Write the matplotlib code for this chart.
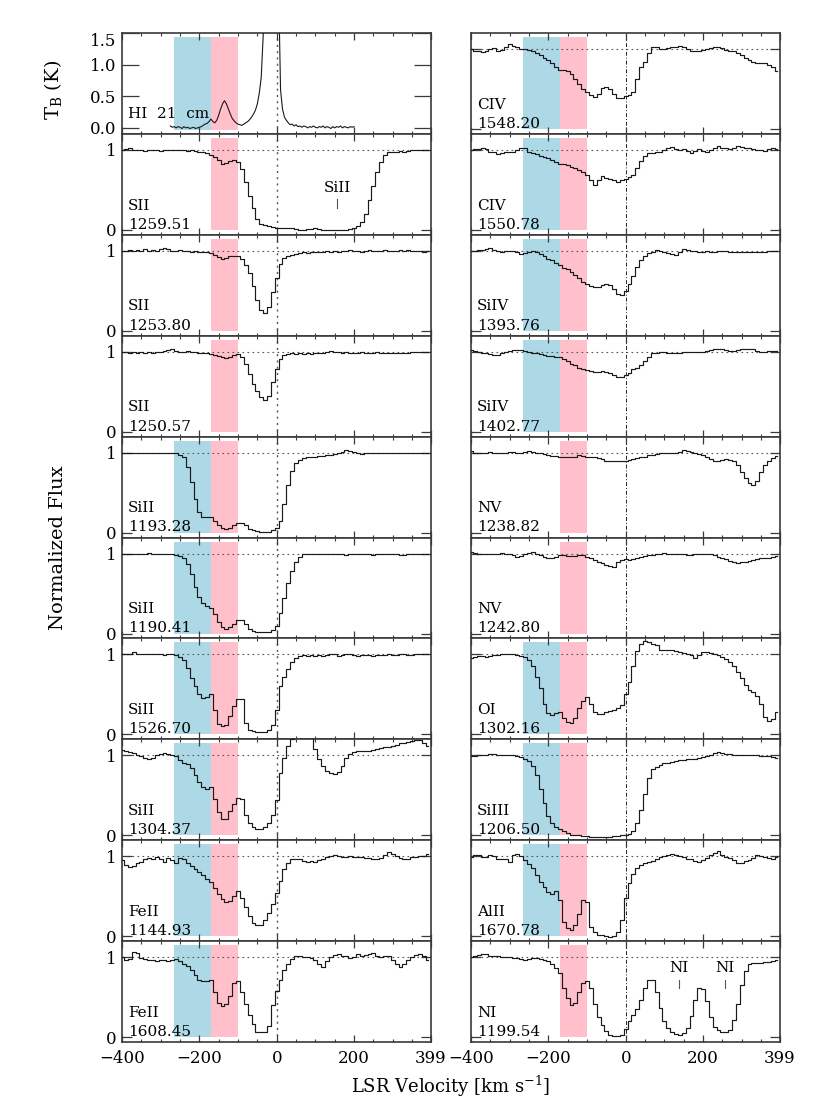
import numpy as np
import matplotlib
matplotlib.use("Agg")
import matplotlib.pyplot as plt
from matplotlib.ticker import FixedLocator, MultipleLocator

plt.rcParams['font.family'] = ['DejaVu Serif']
plt.rcParams['mathtext.fontset'] = 'dejavuserif'

# ---------------- data ----------------
V_START = -400      # first bin centre of every absorption profile (km/s)
V_STEP = 10         # bin width (km/s)
HI_START = -275
HI_STEP = 5

BLUE_RANGE = (-265, -170)
PINK_RANGE = (-170, -100)

hi_tb = [0.03, 0.01, 0.02, 0.0, 0.02, 0.01, -0.01, 0.02, 0.0, 0.01, -0.01, 0.0, 0.01, -0.01, 0.0, 0.01,
         0.02, 0.04, 0.06, 0.07, 0.1, 0.14, 0.1, 0.08, 0.12, 0.2, 0.3, 0.38, 0.43, 0.38, 0.3, 0.22,
         0.15, 0.11, 0.08, 0.06, 0.05, 0.04, 0.06, 0.08, 0.1, 0.13, 0.17, 0.22, 0.28, 0.38, 0.55, 0.8,
         1.45, 2.6, 4.2, 6.0, 7.5, 8.2, 8.0, 6.5, 2.2, 0.6, 0.3, 0.17, 0.12, 0.08, 0.05, 0.06,
         0.03, 0.05, 0.02, 0.03, 0.01, 0.03, 0.02, 0.0, 0.02, 0.01, 0.03, 0.01, 0.0, 0.02, 0.01, 0.03,
         0.0, 0.02, 0.01, -0.01, 0.02, 0.0, 0.02, 0.01, 0.03, 0.0, 0.02, 0.01, 0.0, 0.02, 0.01, 0.02]

sii_1259 = [1.0, 1.01, 1.02, 1.0, 1.0, 1.0, 0.99, 1.0, 1.0, 1.0, 0.99, 1.0, 1.0, 1.0, 1.0, 1.0,
            1.0, 0.99, 1.0, 0.99, 0.98, 0.97, 0.96, 0.94, 0.91, 0.87, 0.83, 0.84, 0.86, 0.87, 0.85, 0.76,
            0.6, 0.43, 0.27, 0.14, 0.08, 0.06, 0.05, 0.04, 0.03, 0.03, 0.02, 0.02, 0.02, 0.01, 0.0, 0.0,
            0.01, 0.01, 0.02, 0.01, 0.0, 0.0, 0.0, 0.0, 0.0, 0.0, 0.0, 0.01, 0.02, 0.05, 0.1, 0.2,
            0.38, 0.55, 0.72, 0.85, 0.94, 0.97, 0.98, 0.98, 0.99, 0.98, 0.99, 1.0, 1.0, 1.0, 1.0, 1.0]

sii_1253 = [1.0, 1.0, 1.01, 1.0, 1.01, 1.0, 1.02, 1.0, 1.01, 1.0, 1.02, 1.03, 1.02, 1.0, 1.0, 1.01,
            1.0, 1.0, 0.99, 1.0, 0.99, 0.99, 0.98, 0.97, 0.95, 0.92, 0.9, 0.91, 0.93, 0.94, 0.94, 0.9,
            0.82, 0.72, 0.56, 0.38, 0.26, 0.22, 0.3, 0.48, 0.66, 0.84, 0.91, 0.93, 0.95, 0.96, 0.97, 0.98,
            0.97, 0.99, 0.98, 0.99, 0.98, 1.0, 0.99, 1.0, 0.99, 1.0, 1.0, 1.01, 1.0, 1.0, 0.99, 1.0,
            1.01, 1.0, 1.0, 1.0, 1.01, 1.0, 1.0, 1.0, 1.01, 1.0, 1.01, 1.0, 1.0, 1.0, 0.99, 1.0]

sii_1250 = [1.0, 1.0, 0.99, 1.0, 0.99, 1.0, 0.99, 1.0, 0.99, 1.0, 1.0, 1.01, 1.02, 1.03, 1.01, 1.0,
            1.0, 1.01, 1.0, 1.0, 0.99, 0.99, 0.98, 0.97, 0.96, 0.95, 0.93, 0.92, 0.94, 0.96, 0.97, 0.93,
            0.85, 0.72, 0.6, 0.51, 0.44, 0.4, 0.45, 0.62, 0.78, 0.91, 0.96, 0.97, 0.98, 0.97, 0.98, 0.97,
            0.98, 0.97, 0.99, 0.98, 0.99, 1.0, 1.01, 1.0, 1.0, 0.99, 1.0, 0.99, 0.98, 0.99, 1.0, 0.99,
            0.99, 0.99, 1.0, 0.99, 0.99, 0.98, 0.98, 0.99, 0.98, 0.98, 0.99, 1.0, 1.0, 1.0, 1.0, 1.0]

siii_1193 = [1.0, 1.0, 0.99, 1.0, 0.99, 1.0, 1.0, 0.99, 1.0, 1.0, 1.0, 0.99, 1.0, 1.0, 0.99, 0.97,
             0.94, 0.82, 0.63, 0.42, 0.26, 0.19, 0.19, 0.2, 0.14, 0.09, 0.06, 0.05, 0.06, 0.09, 0.12, 0.12,
             0.09, 0.05, 0.03, 0.02, 0.01, 0.01, 0.01, 0.03, 0.06, 0.14, 0.36, 0.6, 0.77, 0.87, 0.91, 0.93,
             0.94, 0.94, 0.95, 0.96, 0.96, 0.97, 0.97, 0.98, 1.0, 1.01, 1.03, 1.02, 1.01, 1.0, 0.98, 0.99,
             0.99, 1.0, 1.0, 0.99, 1.0, 1.0, 0.99, 1.0, 1.0, 0.99, 1.0, 1.0, 1.0, 0.99, 1.0, 1.0]

siii_1190 = [0.99, 1.0, 1.0, 1.0, 0.99, 1.0, 1.0, 1.01, 1.0, 1.0, 0.99, 0.99, 1.0, 0.99, 0.98, 0.97,
             0.94, 0.87, 0.74, 0.58, 0.46, 0.38, 0.34, 0.32, 0.24, 0.14, 0.08, 0.06, 0.08, 0.12, 0.17, 0.17,
             0.12, 0.06, 0.03, 0.02, 0.02, 0.02, 0.02, 0.04, 0.1, 0.26, 0.44, 0.63, 0.78, 0.9, 0.96, 0.99,
             1.0, 1.0, 1.0, 0.99, 1.0, 1.0, 0.99, 1.0, 0.99, 0.99, 0.98, 0.99, 0.99, 1.0, 1.0, 0.99,
             0.99, 0.98, 0.99, 0.99, 1.0, 0.99, 0.99, 0.99, 0.98, 0.98, 0.99, 0.99, 1.0, 0.99, 0.99, 1.0]

siii_1526 = [1.0, 1.0, 1.01, 1.03, 1.01, 1.0, 1.0, 1.01, 1.0, 1.0, 1.0, 0.99, 1.0, 1.0, 0.99, 0.97,
             0.93, 0.83, 0.7, 0.6, 0.51, 0.46, 0.47, 0.5, 0.3, 0.13, 0.1, 0.12, 0.23, 0.36, 0.44, 0.44,
             0.14, 0.06, 0.04, 0.03, 0.03, 0.03, 0.06, 0.12, 0.3, 0.6, 0.72, 0.82, 0.9, 0.95, 0.98, 0.99,
             0.98, 0.99, 0.98, 0.99, 0.98, 0.99, 1.0, 1.0, 0.98, 0.99, 1.01, 1.0, 0.99, 0.98, 0.99, 0.99,
             0.99, 0.98, 0.99, 0.99, 0.99, 1.0, 0.99, 0.99, 1.0, 1.0, 0.99, 0.99, 1.0, 1.0, 1.01, 1.0]

siii_1304 = [1.07, 1.06, 1.04, 1.03, 1.01, 0.99, 0.97, 0.95, 0.97, 1.0, 1.02, 1.03, 1.02, 1.01, 0.99, 0.94,
             0.91, 0.89, 0.84, 0.76, 0.67, 0.61, 0.58, 0.6, 0.46, 0.29, 0.21, 0.21, 0.3, 0.39, 0.47, 0.45,
             0.26, 0.15, 0.1, 0.08, 0.08, 0.1, 0.15, 0.25, 0.44, 0.78, 0.97, 1.12, 1.2, 1.26, 1.3, 1.32,
             1.3, 1.27, 1.08, 0.95, 0.87, 0.81, 0.78, 0.77, 0.79, 0.87, 0.97, 1.02, 1.04, 1.05, 1.05, 1.06,
             1.06, 1.07, 1.08, 1.09, 1.1, 1.11, 1.12, 1.13, 1.15, 1.16, 1.17, 1.18, 1.19, 1.19, 1.16, 1.12]

feii_1144 = [0.95, 0.89, 0.86, 0.88, 0.91, 0.93, 0.97, 0.98, 0.96, 0.99, 0.97, 0.93, 0.98, 0.95, 0.91, 0.98,
             0.96, 0.92, 0.88, 0.84, 0.8, 0.76, 0.72, 0.68, 0.6, 0.53, 0.47, 0.43, 0.44, 0.5, 0.56, 0.48,
             0.36, 0.25, 0.17, 0.14, 0.14, 0.2, 0.29, 0.4, 0.54, 0.69, 0.84, 0.92, 0.96, 0.97, 0.96, 0.94,
             0.93, 0.94, 0.93, 0.95, 0.97, 0.99, 1.0, 1.01, 1.0, 0.99, 0.99, 1.0, 0.99, 0.99, 0.99, 0.98,
             0.98, 0.97, 0.97, 0.98, 1.02, 1.05, 1.03, 1.0, 0.98, 0.96, 0.97, 0.99, 0.99, 1.0, 1.0, 1.03]

feii_1608 = [1.0, 0.97, 0.98, 1.06, 1.05, 0.99, 0.98, 0.97, 0.96, 0.95, 0.97, 0.96, 0.95, 0.97, 0.98, 0.95,
             0.92, 0.89, 0.84, 0.78, 0.71, 0.7, 0.7, 0.72, 0.56, 0.43, 0.39, 0.41, 0.52, 0.68, 0.7, 0.56,
             0.42, 0.28, 0.16, 0.06, 0.06, 0.07, 0.14, 0.4, 0.58, 0.72, 0.84, 0.92, 0.98, 1.01, 1.02, 1.0,
             1.0, 0.99, 0.96, 0.91, 0.88, 0.95, 1.0, 1.03, 1.04, 1.02, 1.01, 0.99, 1.0, 1.04, 1.02, 1.03,
             1.04, 1.05, 1.02, 1.0, 1.01, 1.01, 0.97, 0.92, 0.88, 0.92, 0.97, 1.0, 1.03, 1.04, 1.01, 0.97]

civ_1548 = [1.0, 0.98, 0.97, 0.96, 0.98, 1.0, 1.01, 0.98, 0.99, 1.02, 1.06, 1.04, 1.02, 1.0, 1.0, 0.99,
            0.97, 0.95, 0.92, 0.89, 0.86, 0.82, 0.77, 0.74, 0.74, 0.73, 0.69, 0.63, 0.56, 0.5, 0.46, 0.43,
            0.4, 0.44, 0.51, 0.53, 0.5, 0.44, 0.39, 0.39, 0.41, 0.43, 0.46, 0.63, 0.77, 0.84, 0.95, 1.03,
            1.02, 1.0, 1.0, 1.01, 1.02, 1.03, 1.04, 1.02, 1.0, 0.97, 0.97, 0.97, 0.99, 1.0, 1.01, 1.02,
            1.03, 1.01, 0.99, 0.98, 0.97, 0.95, 0.92, 0.89, 0.86, 0.84, 0.83, 0.83, 0.83, 0.8, 0.77, 0.73]

civ_1550 = [1.0, 1.01, 1.01, 1.02, 1.01, 0.98, 0.97, 0.95, 0.96, 0.97, 0.98, 0.98, 1.0, 1.02, 1.03, 0.98,
            0.96, 0.95, 0.93, 0.91, 0.9, 0.87, 0.85, 0.83, 0.82, 0.81, 0.79, 0.77, 0.75, 0.72, 0.69, 0.62,
            0.56, 0.63, 0.67, 0.65, 0.64, 0.63, 0.6, 0.62, 0.64, 0.66, 0.69, 0.77, 0.86, 0.93, 0.96, 0.96,
            0.97, 0.98, 1.0, 1.02, 1.04, 1.01, 1.0, 1.01, 0.99, 0.96, 0.99, 1.01, 0.99, 0.98, 1.0, 1.02,
            1.05, 1.03, 1.02, 1.01, 1.02, 1.05, 1.04, 1.03, 1.02, 1.01, 1.0, 1.0, 0.99, 1.01, 1.02, 1.01]

siiv_1393 = [1.0, 1.0, 1.01, 1.01, 1.02, 1.03, 1.01, 1.0, 0.99, 1.0, 1.0, 1.0, 0.98, 0.96, 0.97, 0.99,
             1.0, 0.98, 0.96, 0.93, 0.9, 0.88, 0.85, 0.82, 0.79, 0.77, 0.74, 0.7, 0.66, 0.61, 0.58, 0.56,
             0.55, 0.55, 0.57, 0.59, 0.57, 0.52, 0.46, 0.45, 0.5, 0.58, 0.69, 0.8, 0.88, 0.93, 0.97, 0.99,
             1.01, 1.0, 0.99, 0.97, 0.96, 0.95, 0.99, 1.02, 1.01, 1.0, 1.0, 0.99, 0.99, 1.0, 0.99, 0.99,
             1.0, 1.0, 1.0, 0.99, 0.99, 0.99, 0.98, 0.98, 0.98, 0.99, 0.99, 0.99, 0.99, 1.0, 1.0, 1.0]

siiv_1402 = [1.02, 1.01, 1.0, 0.99, 0.98, 0.97, 0.96, 0.96, 0.98, 1.0, 1.01, 1.02, 1.02, 1.02, 1.01, 1.0,
             0.99, 0.98, 0.97, 0.96, 0.95, 0.95, 0.94, 0.94, 0.91, 0.88, 0.85, 0.83, 0.8, 0.78, 0.77, 0.76,
             0.75, 0.75, 0.76, 0.75, 0.73, 0.71, 0.69, 0.69, 0.71, 0.74, 0.78, 0.8, 0.84, 0.88, 0.94, 0.98,
             0.99, 1.0, 1.0, 0.99, 0.99, 0.99, 0.99, 1.0, 1.0, 1.0, 1.0, 1.0, 1.0, 1.01, 1.02, 1.03,
             1.04, 1.03, 1.02, 1.01, 1.01, 1.02, 1.03, 1.03, 1.04, 1.03, 1.01, 1.0, 1.0, 1.01, 1.01, 1.01]

nv_1238 = [1.02, 1.0, 0.99, 0.99, 1.0, 1.01, 1.0, 0.99, 0.99, 1.0, 1.01, 1.01, 1.0, 1.0, 1.01, 1.02,
           1.01, 1.0, 0.99, 0.98, 0.97, 0.96, 0.96, 0.95, 0.95, 0.94, 0.94, 0.95, 0.97, 0.96, 0.95, 0.95,
           0.94, 0.93, 0.92, 0.9, 0.9, 0.9, 0.9, 0.9, 0.9, 0.91, 0.92, 0.93, 0.94, 0.95, 0.97, 0.97,
           0.98, 0.99, 0.99, 0.99, 0.99, 1.0, 1.01, 1.03, 1.02, 1.01, 1.0, 0.98, 0.97, 0.95, 0.92, 0.9,
           0.9, 0.91, 0.92, 0.91, 0.9, 0.84, 0.76, 0.68, 0.62, 0.6, 0.65, 0.76, 0.85, 0.9, 0.93, 0.96]

nv_1242 = [1.02, 1.01, 1.0, 1.0, 0.99, 0.99, 0.99, 1.0, 1.01, 1.0, 0.99, 0.98, 0.96, 0.97, 0.99, 1.01,
           1.02, 1.0, 0.98, 0.96, 0.95, 0.94, 0.96, 0.98, 0.98, 0.97, 0.97, 0.97, 0.98, 0.98, 0.96, 0.94,
           0.92, 0.9, 0.88, 0.86, 0.84, 0.83, 0.89, 0.92, 0.93, 0.92, 0.93, 0.94, 0.96, 0.97, 0.98, 0.98,
           0.99, 1.0, 1.01, 1.0, 1.0, 0.99, 0.99, 0.99, 0.98, 0.98, 0.99, 0.99, 1.0, 0.99, 0.99, 0.98,
           0.96, 0.95, 0.93, 0.91, 0.89, 0.88, 0.89, 0.9, 0.91, 0.92, 0.93, 0.94, 0.95, 0.95, 0.96, 0.97]

oi_1302 = [0.96, 0.97, 0.98, 0.98, 0.97, 0.98, 0.99, 0.99, 1.0, 1.01, 1.01, 1.0, 0.99, 0.98, 0.97, 0.93,
           0.86, 0.72, 0.58, 0.38, 0.27, 0.24, 0.27, 0.28, 0.2, 0.16, 0.14, 0.2, 0.33, 0.42, 0.47, 0.38,
           0.28, 0.25, 0.26, 0.28, 0.29, 0.31, 0.33, 0.37, 0.5, 0.66, 0.86, 1.04, 1.13, 1.17, 1.15, 1.13,
           1.12, 1.06, 1.05, 1.05, 1.05, 1.04, 1.03, 1.02, 1.0, 0.99, 0.96, 0.99, 1.03, 1.03, 1.02, 1.0,
           0.99, 0.97, 0.94, 0.91, 0.86, 0.78, 0.7, 0.62, 0.56, 0.53, 0.48, 0.38, 0.22, 0.17, 0.19, 0.28]

siiii_1206 = [0.99, 0.99, 1.0, 1.0, 1.01, 1.02, 1.02, 1.01, 1.01, 1.01, 1.01, 1.0, 0.99, 0.98, 0.96, 0.93,
              0.87, 0.75, 0.58, 0.4, 0.24, 0.16, 0.11, 0.08, 0.05, 0.03, 0.01, 0.0, 0.0, -0.01, -0.01, -0.02,
              -0.02, -0.02, -0.02, -0.02, -0.02, -0.01, -0.01, 0.0, 0.01, 0.02, 0.06, 0.15, 0.32, 0.52, 0.72, 0.83,
              0.86, 0.88, 0.9, 0.91, 0.92, 0.93, 0.94, 0.94, 0.95, 0.96, 0.96, 0.97, 0.98, 0.99, 1.01, 1.03,
              1.04, 1.03, 1.02, 1.02, 1.01, 1.01, 1.01, 1.0, 1.0, 1.0, 1.0, 0.99, 0.99, 0.99, 0.98, 0.97]

alii_1670 = [0.99, 1.01, 1.02, 0.99, 0.99, 1.01, 1.0, 0.97, 0.96, 0.96, 0.93, 1.02, 1.03, 1.0, 0.95, 0.9,
             0.85, 0.76, 0.68, 0.62, 0.55, 0.53, 0.56, 0.45, 0.18, 0.1, 0.08, 0.14, 0.28, 0.45, 0.43, 0.12,
             0.05, 0.02, 0.01, 0.0, -0.01, 0.0, 0.05, 0.2, 0.48, 0.66, 0.78, 0.85, 0.89, 0.91, 0.93, 0.94,
             0.96, 0.99, 1.0, 1.02, 1.03, 1.02, 1.0, 0.99, 0.97, 0.96, 0.94, 0.93, 0.95, 0.98, 1.01, 1.04,
             1.07, 1.02, 0.99, 0.98, 0.95, 0.91, 0.92, 0.94, 0.95, 0.98, 1.01, 1.0, 0.99, 0.98, 0.97, 0.99]

ni_1199 = [1.0, 1.02, 1.03, 1.04, 1.04, 1.02, 1.01, 1.01, 1.0, 1.0, 1.0, 0.99, 0.99, 0.98, 0.97, 0.98,
           0.99, 0.99, 0.98, 0.97, 0.95, 0.92, 0.87, 0.8, 0.62, 0.49, 0.4, 0.43, 0.56, 0.68, 0.7, 0.62,
           0.42, 0.25, 0.15, 0.08, 0.03, 0.02, 0.01, 0.03, 0.1, 0.2, 0.28, 0.35, 0.46, 0.62, 0.72, 0.71,
           0.57, 0.36, 0.2, 0.11, 0.06, 0.04, 0.03, 0.05, 0.12, 0.26, 0.46, 0.62, 0.6, 0.45, 0.25, 0.13,
           0.09, 0.07, 0.06, 0.09, 0.22, 0.42, 0.65, 0.83, 0.91, 0.93, 0.93, 0.93, 0.94, 0.94, 0.95, 0.96]

left_ions = ["SII", "SII", "SII", "SiII", "SiII", "SiII", "SiII", "FeII", "FeII"]
left_waves = ["1259.51", "1253.80", "1250.57", "1193.28", "1190.41", "1526.70", "1304.37", "1144.93", "1608.45"]
left_flux = [sii_1259, sii_1253, sii_1250, siii_1193, siii_1190, siii_1526, siii_1304, feii_1144, feii_1608]
left_blue = [False, False, False, True, True, True, True, True, True]

right_ions = ["CIV", "CIV", "SiIV", "SiIV", "NV", "NV", "OI", "SiIII", "AlII", "NI"]
right_waves = ["1548.20", "1550.78", "1393.76", "1402.77", "1238.82", "1242.80", "1302.16", "1206.50", "1670.78", "1199.54"]
right_flux = [civ_1548, civ_1550, siiv_1393, siiv_1402, nv_1238, nv_1242, oi_1302, siiii_1206, alii_1670, ni_1199]
right_blue = [True, True, True, True, False, False, True, True, True, False]

SIII_MARK_V = 157     # SiII blend marked in SII 1259.51
NI_MARK_V = [137, 257]  # NI triplet components in NI 1199.54

# ---------------- layout ----------------
W, H = 830, 1107
fig = plt.figure(figsize=(W / 100, H / 100), dpi=100)
TOP = 1 - 33 / H
BOT = 1 - 1042 / H
PH = (TOP - BOT) / 10
LX = 122 / W
RX = 471 / W
PW = 309 / W

YLIM = (-0.06, 1.2)
SHADE_TOP = 1.15
LINE_C = '#1a1a1a'
FRAME_C = '#3a3a3a'
LAB_FS = 11
TICK_FS = 12
AX_FS = 13


def style_axes(ax, bottom_labels):
    ax.set_xlim(-400, 399)
    ax.xaxis.set_major_locator(FixedLocator([-400, -200, 0, 200, 399]))
    ax.xaxis.set_minor_locator(MultipleLocator(50))
    ax.tick_params(axis='x', which='major', direction='in', top=True, bottom=True,
                   length=5, width=0.9, color=FRAME_C, labelsize=TICK_FS, pad=6)
    ax.tick_params(axis='x', which='minor', direction='in', top=True, bottom=True,
                   length=2.5, width=0.8, color=FRAME_C)
    ax.tick_params(axis='y', which='major', direction='in', left=True, right=True,
                   length=7, width=0.9, color=FRAME_C, labelsize=TICK_FS, pad=4)
    if bottom_labels:
        ax.set_xticklabels(['\u2212400', '\u2212200', '0', '200', '399'])
    else:
        ax.tick_params(axis='x', labelbottom=False)
    for sp in ax.spines.values():
        sp.set_linewidth(1.2)
        sp.set_color(FRAME_C)


def shade(ax, blue, y0, y1):
    if blue:
        ax.fill_between(list(BLUE_RANGE), y0, y1, color='lightblue', lw=0, zorder=0)
    ax.fill_between(list(PINK_RANGE), y0, y1, color='pink', lw=0, zorder=0)


def spectrum_panel(ax, flux, ion, wave, blue, left_col, bottom):
    vel = V_START + V_STEP * np.arange(len(flux))
    shade(ax, blue, 0, SHADE_TOP)
    ax.axhline(1, ls=(0, (1.5, 3)), color='#555555', lw=0.8, zorder=1)
    if left_col:
        ax.axvline(0, ls=(0, (1.5, 3)), color='#555555', lw=1.0, zorder=1)
    else:
        ax.axvline(0, ls=(0, (4, 2, 1, 2)), color='#222222', lw=0.7, zorder=1)
    ax.step(vel, flux, where='mid', color=LINE_C, lw=0.85, zorder=3)
    ax.set_ylim(*YLIM)
    ax.set_yticks([0, 1])
    style_axes(ax, bottom)
    if left_col:
        ax.set_yticklabels(['0', '1'])
    else:
        ax.set_yticklabels([])
    ax.text(0.02, 0.29, ion, transform=ax.transAxes, fontsize=LAB_FS, ha='left', va='center', zorder=4)
    ax.text(0.02, 0.10, wave, transform=ax.transAxes, fontsize=LAB_FS, ha='left', va='center', zorder=4)


# ---- left column, HI panel ----
ax = fig.add_axes([LX, BOT + 9 * PH, PW, PH])
hv = HI_START + HI_STEP * np.arange(len(hi_tb))
shade(ax, True, -0.026, 1.437)
ax.axvline(0, ls=(0, (1.5, 3)), color='#555555', lw=1.0, zorder=1)
ax.plot(hv, hi_tb, color=LINE_C, lw=0.8, zorder=3)
ax.set_ylim(-0.095, 1.5)
ax.set_yticks([0, 0.5, 1.0, 1.5])
style_axes(ax, False)
ax.tick_params(axis='y', length=12)
ax.set_yticklabels(['0.0', '0.5', '1.0', '1.5'])
ax.get_yticklabels()[-1].set_verticalalignment('top')
ax.text(0.02, 0.2, 'HI  21  cm', transform=ax.transAxes, fontsize=LAB_FS, ha='left', va='center')

for i in range(9):
    ax = fig.add_axes([LX, BOT + (8 - i) * PH, PW, PH])
    spectrum_panel(ax, left_flux[i], left_ions[i], left_waves[i], left_blue[i], True, i == 8)
    if i == 0:
        ax.text(SIII_MARK_V, 0.53, 'SiII', ha='center', va='center', fontsize=LAB_FS)
        ax.plot([SIII_MARK_V, SIII_MARK_V], [0.28, 0.39], color='#555555', lw=0.8)

for i in range(10):
    ax = fig.add_axes([RX, BOT + (9 - i) * PH, PW, PH])
    spectrum_panel(ax, right_flux[i], right_ions[i], right_waves[i], right_blue[i], False, i == 9)
    if i == 9:
        for v in NI_MARK_V:
            ax.text(v, 0.86, 'NI', ha='center', va='center', fontsize=LAB_FS)
            ax.plot([v, v], [0.62, 0.72], color='#555555', lw=0.8)

fig.text(53 / W, 1 - 90 / H, r'T$_{\rm B}$ (K)', rotation=90, ha='center', va='center', fontsize=AX_FS + 1)
fig.text(58 / W, 1 - 548 / H, 'Normalized Flux', rotation=90, ha='center', va='center', fontsize=AX_FS + 1)
fig.text(451 / W, 1 - 1086 / H, r'LSR Velocity [km s$^{-1}$]', ha='center', va='center', fontsize=AX_FS)

fig.savefig('out.png', dpi=100)
